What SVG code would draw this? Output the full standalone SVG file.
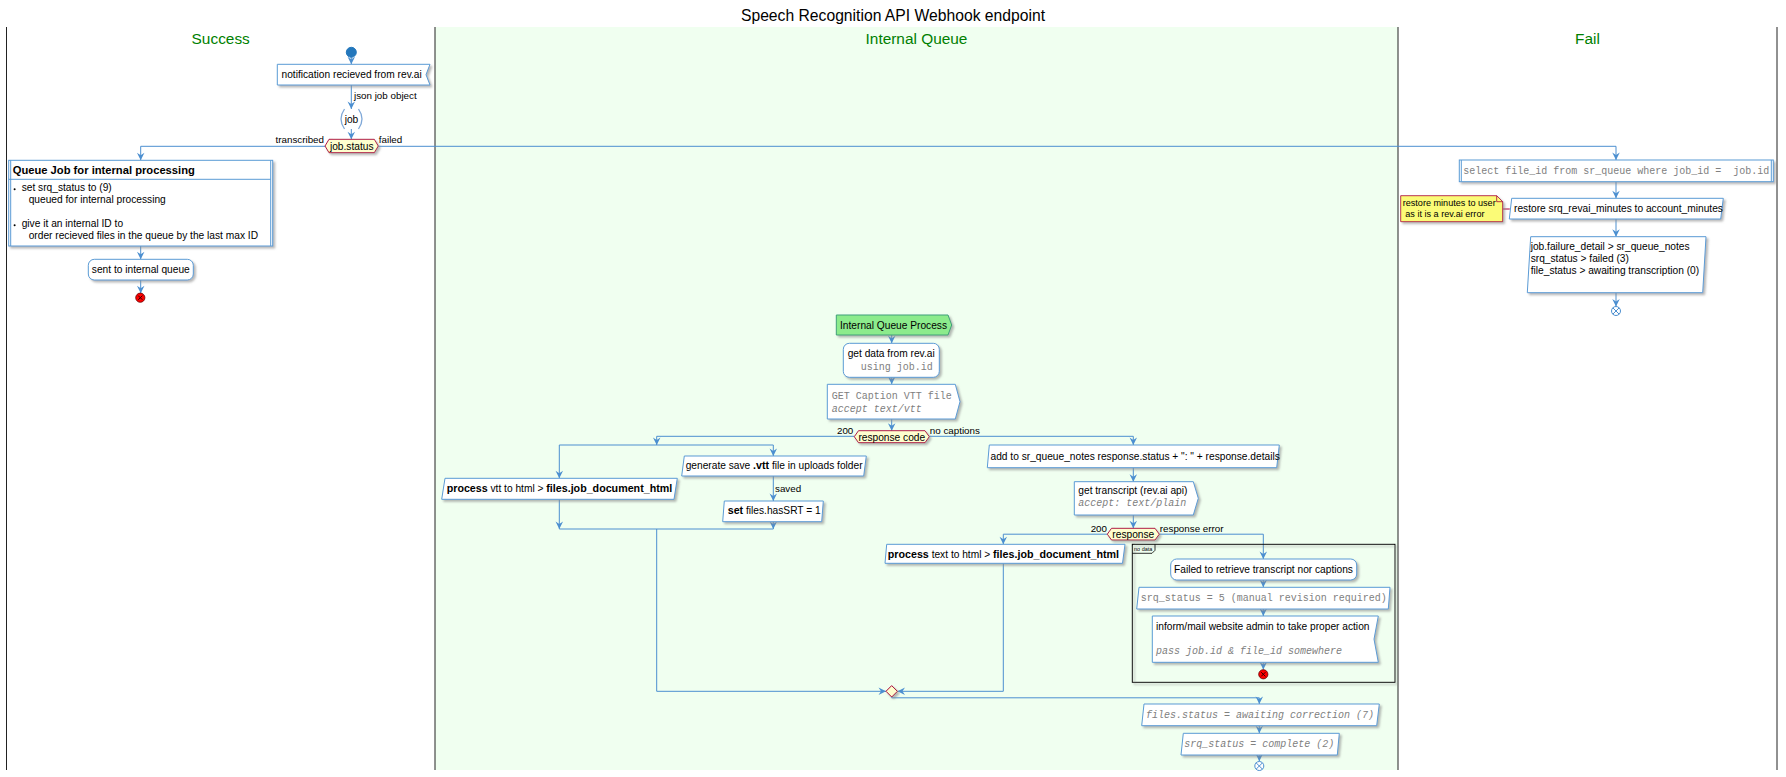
<svg xmlns="http://www.w3.org/2000/svg" width="1786" height="777" viewBox="0 0 1786 777">
<style>
.bx{fill:#fff;stroke:#5B9BD5;stroke-width:1;filter:url(#sh)}
.ln{fill:none;stroke:#4C8FD0;stroke-width:1}
.ar{fill:none;stroke:#4C8FD0;stroke-width:1;marker-end:url(#ah)}
.hx{fill:#FEFECE;stroke:#A80036;stroke-width:0.9;filter:url(#sh)}
.t{font-family:"Liberation Sans",Arial,sans-serif;font-size:10.2px;fill:#000}
.b{font-weight:bold;font-size:10.7px}
.lb{font-family:"Liberation Sans",Arial,sans-serif;font-size:9.8px;fill:#000}
.m{font-family:"Liberation Mono","Courier New",monospace;font-size:10px;fill:#808080}
.mi{font-family:"Liberation Mono","Courier New",monospace;font-size:10px;fill:#808080;font-style:italic}
.lane{font-family:"Liberation Sans",Arial,sans-serif;font-size:15.4px;fill:#008000;text-anchor:middle}
.sep{stroke:#222;stroke-width:1}
</style>
<defs>
<filter id="sh" x="-10%" y="-20%" width="130%" height="160%">
<feDropShadow dx="2" dy="2" stdDeviation="1" flood-color="#888" flood-opacity="0.6"/>
</filter>
<marker id="ah" markerUnits="userSpaceOnUse" markerWidth="10" markerHeight="10" refX="0" refY="0" viewBox="-7 -4 8 8" orient="auto">
<path d="M0,0 L-6,-3 L-4,0 L-6,3 Z" fill="#4C8FD0"/>
</marker>
</defs>
<rect x="0" y="0" width="1786" height="777" fill="#fff"/>
<g id="lanes">
<rect x="435" y="27" width="963" height="743" fill="#F0FFF0"/>
<line class="sep" x1="6.5" y1="27" x2="6.5" y2="770"/>
<line class="sep" x1="435" y1="27" x2="435" y2="770"/>
<line class="sep" x1="1398" y1="27" x2="1398" y2="770"/>
<line class="sep" x1="1777" y1="27" x2="1777" y2="770"/>
<text x="893" y="20.5" text-anchor="middle" style="font-family:'Liberation Sans',Arial,sans-serif;font-size:15.7px;fill:#000">Speech Recognition API Webhook endpoint</text>
<text class="lane" x="220.7" y="43.5">Success</text>
<text class="lane" x="916.5" y="43.5">Internal Queue</text>
<text class="lane" x="1587.5" y="43.5">Fail</text>
</g>
<g id="connectors">
<path class="ar" d="M351.3,57.3 V64.3"/>
<path class="ar" d="M351.3,85 V109"/>
<path class="ar" d="M351.3,129 V139.3"/>
<path class="ar" d="M325,146.3 H140.7 V160.3"/>
<path class="ar" d="M378.3,146.3 H1616 V160"/>
<path class="ar" d="M140.7,246 V259.3"/>
<path class="ar" d="M140.7,280 V293.2"/>
<path class="ar" d="M1616,181.7 V198.3"/>
<path class="ar" d="M1616,219 V236.7"/>
<path class="ar" d="M1616,292.7 V306.5"/>
<path class="ln" d="M1502.7,209 H1509.8" style="stroke:#A80036"/>
<path class="ar" d="M891.7,335 V343.3"/>
<path class="ar" d="M891.7,377.3 V384.3"/>
<path class="ar" d="M891.7,419 V430.7"/>
<path class="ar" d="M854.3,436.3 H656.7 V445"/>
<path class="ln" d="M559.3,445 H773.3"/>
<path class="ar" d="M559.3,445 V478.3"/>
<path class="ar" d="M773.3,445 V456"/>
<path class="ar" d="M773.3,476 V501"/>
<path class="ar" d="M559.3,499.3 V529"/>
<path class="ar" d="M773.3,521.7 V529"/>
<path class="ln" d="M559.3,529 H773.3"/>
<path class="ar" d="M656.7,529 V691.3 H886"/>
<path class="ar" d="M929.3,436.3 H1133.3 V445"/>
<path class="ar" d="M1133.3,467.7 V481.7"/>
<path class="ar" d="M1133.3,515 V528.3"/>
<path class="ar" d="M1107.3,534.2 H1003.3 V544.3"/>
<path class="ar" d="M1003.3,563.3 V691.3 H897.5"/>
<path class="ar" d="M1159.3,534.2 H1263.3 V559"/>
<path class="ar" d="M1263.3,580 V587.3"/>
<path class="ar" d="M1263.3,609 V616"/>
<path class="ar" d="M1263.3,662.3 V669.5"/>
<path class="ar" d="M891.7,697 V697.8 H1259.3 V704"/>
<path class="ar" d="M1259.3,725.7 V733.3"/>
<path class="ar" d="M1259.3,755 V761.3"/>
</g>
<g id="start"><circle cx="351.3" cy="52.3" r="5" fill="#2377BC" stroke="#2377BC"/></g>
<g id="notification">
<path class="bx" d="M277.3,64.3 H430 L426,74.7 L430,85 H277.3 Z"/>
<text class="t" x="281.5" y="78">notification recieved from rev.ai</text>
</g>
<text class="lb" x="354" y="99.3">json job object</text>
<g id="job">
<path d="M344.5,109 Q337.5,119 344.5,129" fill="none" stroke="#7FA8D8" stroke-width="1.3"/>
<path d="M358.5,109 Q365.5,119 358.5,129" fill="none" stroke="#7FA8D8" stroke-width="1.3"/>
<text class="t" x="351.5" y="123" text-anchor="middle">job</text>
</g>
<g id="job_status">
<path class="hx" d="M325,146 L329,139.3 H374.3 L378.3,146 L374.3,152.7 H329 Z"/>
<text class="t" x="351.7" y="150" text-anchor="middle">job.status</text>
<text class="lb" x="324" y="143.3" text-anchor="end">transcribed</text>
<text class="lb" x="378.8" y="143.3">failed</text>
</g>
<g id="queue_job">
<rect class="bx" x="8.7" y="160.3" width="264" height="85.7"/>
<line x1="10.7" y1="160.3" x2="10.7" y2="246" stroke="#5B9BD5"/>
<line x1="270.7" y1="160.3" x2="270.7" y2="246" stroke="#5B9BD5"/>
<line x1="8.7" y1="179.3" x2="270.7" y2="179.3" stroke="#5B9BD5"/>
<text class="t" x="12.7" y="174.3" style="font-size:11.2px;font-weight:bold">Queue Job for internal processing</text>
<circle cx="14.6" cy="189.2" r="1" fill="#000"/>
<text class="t" x="21.7" y="191">set srq_status to (9)</text>
<text class="t" x="28.7" y="203">queued for internal processing</text>
<circle cx="14.6" cy="225.2" r="1" fill="#000"/>
<text class="t" x="21.7" y="227">give it an internal ID to</text>
<text class="t" x="28.7" y="239">order recieved files in the queue by the last max ID</text>
</g>
<g id="sent_queue">
<rect class="bx" x="88.3" y="259.3" width="105" height="20.7" rx="6"/>
<text class="t" x="140.8" y="273.3" text-anchor="middle">sent to internal queue</text>
</g>
<g id="end_success">
<circle cx="140.3" cy="297.7" r="4.6" fill="#F00" stroke="#600" stroke-width="0.8"/>
<path d="M138.2,295.6 L142.4,299.8 M142.4,295.6 L138.2,299.8" stroke="#300" stroke-width="1"/>
</g>
<g id="select_file">
<rect class="bx" x="1459.3" y="160" width="314" height="21.7"/>
<line x1="1461.3" y1="160" x2="1461.3" y2="181.7" stroke="#5B9BD5"/>
<line x1="1771.3" y1="160" x2="1771.3" y2="181.7" stroke="#5B9BD5"/>
<text class="m" x="1463.3" y="174.3" xml:space="preserve">select file_id from sr_queue where job_id =  job.id</text>
</g>
<g id="restore_minutes">
<path class="bx" d="M1511.7,198.3 H1723.3 L1720.7,219 H1509.3 Z"/>
<text class="t" x="1514" y="212.3">restore srq_revai_minutes to account_minutes</text>
</g>
<g id="note">
<path d="M1400.7,195.7 H1496.7 L1502.7,201.7 V221.7 H1400.7 Z" fill="#FBFB77" stroke="#A80036" stroke-width="0.8" filter="url(#sh)"/>
<path d="M1496.7,195.7 V201.7 H1502.7" fill="none" stroke="#A80036" stroke-width="0.8"/>
<text x="1402.7" y="205.7" style="font-family:'Liberation Sans',Arial,sans-serif;font-size:9.1px">restore minutes to user</text>
<text x="1405.3" y="217.3" style="font-family:'Liberation Sans',Arial,sans-serif;font-size:9.1px">as it is a rev.ai error</text>
</g>
<g id="failure_detail">
<path class="bx" d="M1530.7,236.7 H1706 L1702.7,292.7 H1527.3 Z"/>
<text class="t" x="1530.7" y="250">job.failure_detail &gt; sr_queue_notes</text>
<text class="t" x="1530.7" y="261.7">srq_status &gt; failed (3)</text>
<text class="t" x="1530.7" y="274">file_status &gt; awaiting transcription (0)</text>
</g>
<g id="end_fail">
<circle cx="1616" cy="311" r="4.5" fill="#fff" stroke="#4C8FD0" stroke-width="1"/>
<path d="M1612.8,307.8 L1619.2,314.2 M1619.2,307.8 L1612.8,314.2" stroke="#4C8FD0" stroke-width="1"/>
</g>
<g id="internal_queue_process">
<path d="M836.3,315 H948 L951.7,325 L948,335 H836.3 Z" fill="#8CEB8C" stroke="#3FA07A" stroke-width="1" filter="url(#sh)"/>
<text class="t" x="840" y="329.3">Internal Queue Process</text>
</g>
<g id="get_data">
<rect class="bx" x="843.3" y="343.3" width="96" height="34" rx="6"/>
<text class="t" x="847.7" y="357.3">get data from rev.ai</text>
<text class="m" x="860.7" y="370">using job.id</text>
</g>
<g id="get_caption">
<path class="bx" d="M827.3,384.3 H955.3 L960,401.7 L955.3,419 H827.3 Z"/>
<text class="m" x="831.7" y="399">GET Caption VTT file</text>
<text class="mi" x="831.7" y="411.7">accept text/vtt</text>
</g>
<g id="response_code">
<path class="hx" d="M854.3,436.7 L858.5,430.7 H925 L929.3,436.7 L925,442.7 H858.5 Z"/>
<text class="t" x="891.8" y="440.5" text-anchor="middle">response code</text>
<text class="lb" x="853.3" y="434.3" text-anchor="end">200</text>
<text class="lb" x="929.8" y="434">no captions</text>
</g>
<g id="process_vtt">
<path class="bx" d="M445,478.3 H677.3 L674,499.3 H441.7 Z"/>
<text class="t" x="446.7" y="492.3"><tspan class="b">process</tspan> vtt to html &gt; <tspan class="b">files.job_document_html</tspan></text>
</g>
<g id="generate_vtt">
<path class="bx" d="M684.3,456 H866.3 L863.7,476 H681.7 Z"/>
<text class="t" x="685.7" y="469">generate save <tspan class="b">.vtt</tspan> file in uploads folder</text>
</g>
<text class="lb" x="775" y="491.7">saved</text>
<g id="set_srt">
<path class="bx" d="M724.3,501 H823.3 L821.7,521.7 H722.7 Z"/>
<text class="t" x="727.7" y="514.3"><tspan class="b">set</tspan> files.hasSRT = 1</text>
</g>
<g id="add_notes">
<path class="bx" d="M989.3,445 H1279.3 L1276.7,467.7 H987.3 Z"/>
<text class="t" x="990.5" y="460">add to sr_queue_notes response.status + ": " + response.details</text>
</g>
<g id="get_transcript">
<path class="bx" d="M1074.3,481.7 H1193.3 L1198.3,498.3 L1193.3,515 H1074.3 Z"/>
<text class="t" x="1078.3" y="494">get transcript (rev.ai api)</text>
<text class="mi" x="1078.3" y="506" xml:space="preserve">accept: text/plain</text>
</g>
<g id="response">
<path class="hx" d="M1107.3,534.2 L1111.5,528.3 H1155 L1159.3,534.2 L1155,540 H1111.5 Z"/>
<text class="t" x="1133.3" y="537.8" text-anchor="middle">response</text>
<text class="lb" x="1107" y="531.7" text-anchor="end">200</text>
<text class="lb" x="1159.8" y="531.7">response error</text>
</g>
<g id="process_text">
<path class="bx" d="M886.7,544.3 H1125 L1122.5,563.3 H885 Z"/>
<text class="t" x="887.8" y="558.3"><tspan class="b">process</tspan> text to html &gt; <tspan class="b">files.job_document_html</tspan></text>
</g>
<g id="no_data">
<rect x="1132.3" y="544.3" width="262.7" height="138" fill="none" stroke="#000" stroke-width="1" filter="url(#sh)"/>
<path d="M1132.3,553.3 H1152 L1155,550.3 V544.3" fill="none" stroke="#000" stroke-width="0.8"/>
<text x="1134" y="550.8" style="font-family:'Liberation Sans',Arial,sans-serif;font-size:5.5px">no data</text>
</g>
<g id="failed_retrieve">
<rect class="bx" x="1170.7" y="559" width="186" height="21" rx="6"/>
<text class="t" x="1263.5" y="572.6" text-anchor="middle">Failed to retrieve transcript nor captions</text>
</g>
<g id="srq_manual">
<path class="bx" d="M1139,587.3 H1390 L1388.3,609 H1136.7 Z"/>
<text class="m" x="1140.7" y="601">srq_status = 5 (manual revision required)</text>
</g>
<g id="inform_admin">
<path class="bx" d="M1152.3,616 H1378.3 L1374,639.2 L1378.3,662.3 H1152.3 Z"/>
<text class="t" x="1156" y="630">inform/mail website admin to take proper action</text>
<text class="mi" x="1156" y="654.3">pass job.id &amp; file_id somewhere</text>
</g>
<g id="end_nodata">
<circle cx="1263.3" cy="674.3" r="4.6" fill="#F00" stroke="#600" stroke-width="0.8"/>
<path d="M1261.2,672.2 L1265.4,676.4 M1265.4,672.2 L1261.2,676.4" stroke="#300" stroke-width="1"/>
</g>
<g id="merge">
<path d="M891.7,685.6 L897.4,691.3 L891.7,697 L886,691.3 Z" fill="#FEFECE" stroke="#A80036" stroke-width="1" filter="url(#sh)"/>
</g>
<g id="files_status">
<path class="bx" d="M1144,704 H1379.3 L1376.7,725.7 H1141.7 Z"/>
<text class="mi" x="1146" y="718.3">files.status = awaiting correction (7)</text>
</g>
<g id="srq_complete">
<path class="bx" d="M1183.3,733.3 H1339.3 L1337.3,755 H1181 Z"/>
<text class="mi" x="1184.3" y="747.3">srq_status = complete (2)</text>
</g>
<g id="end_iq">
<circle cx="1259.3" cy="766" r="4.5" fill="#fff" stroke="#4C8FD0" stroke-width="1"/>
<path d="M1256.1,762.8 L1262.5,769.2 M1262.5,762.8 L1256.1,769.2" stroke="#4C8FD0" stroke-width="1"/>
</g>
</svg>
